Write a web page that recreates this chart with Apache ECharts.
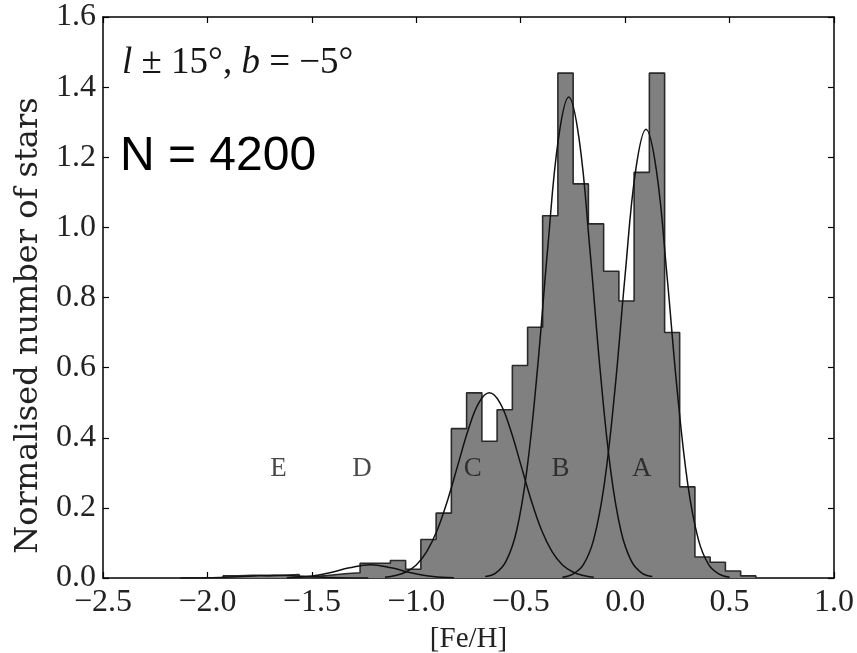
<!DOCTYPE html>
<html><head><meta charset="utf-8">
<script src="https://cdn.jsdelivr.net/npm/echarts@6/dist/echarts.min.js"></script>
<style>html,body{margin:0;padding:0;background:#fff}#c{width:857px;height:653px}</style>
</head><body><div id="c"></div>
<script>
// Histogram bin edges ([Fe/H]) and normalised heights
const binEdges = [-1.925,-1.853,-1.780,-1.707,-1.634,-1.561,-1.488,-1.415,-1.342,-1.269,
  -1.196,-1.124,-1.051,-0.978,-0.905,-0.832,-0.759,-0.686,-0.613,-0.540,
  -0.467,-0.395,-0.322,-0.249,-0.176,-0.103,-0.030,0.043,0.116,0.189,
  0.261,0.334,0.407,0.480,0.553,0.626];
const binHeights = [0.006,0.008,0.006,0.008,0.010,0.004,0.008,0.012,0.015,0.042,
  0.042,0.050,0.025,0.110,0.185,0.426,0.528,0.390,0.480,0.606,
  0.715,1.033,1.440,1.124,1.010,0.875,0.790,1.157,1.440,0.700,
  0.260,0.060,0.045,0.020,0.006];

const aFe = [-0.30,-0.25,-0.20,-0.15,-0.10,-0.05,0.00,0.05,0.10,0.15,0.20,0.25,0.30,0.35,0.40,0.45,0.50];
const aN  = [0.002,0.011,0.038,0.111,0.267,0.530,0.865,1.161,1.280,1.161,0.865,0.530,0.267,0.111,0.038,0.011,0.002];
const bFe = [-0.67,-0.62,-0.57,-0.52,-0.47,-0.42,-0.37,-0.32,-0.27,-0.22,-0.17,-0.12,-0.07,-0.02,0.03,0.08,0.13];
const bN  = [0.004,0.014,0.048,0.134,0.310,0.595,0.946,1.250,1.372,1.250,0.946,0.595,0.310,0.134,0.048,0.014,0.004];
const cFe = [-1.15,-1.10,-1.05,-1.00,-0.95,-0.90,-0.85,-0.80,-0.75,-0.70,-0.65,-0.60,-0.55,-0.50,-0.45,-0.40,-0.35,-0.30,-0.25,-0.20,-0.15];
const cN  = [0.002,0.007,0.017,0.037,0.075,0.136,0.222,0.324,0.425,0.500,0.528,0.500,0.425,0.324,0.222,0.136,0.075,0.037,0.017,0.007,0.002];
const dFe = [-1.62,-1.52,-1.42,-1.32,-1.22,-1.12,-1.02,-0.92,-0.82];
const dN  = [0.001,0.004,0.014,0.029,0.038,0.029,0.014,0.004,0.001];
const eFe = [-2.13,-1.98,-1.88,-1.78,-1.68,-1.58,-1.48,-1.38,-1.23];
const eN  = [0.000,0.001,0.003,0.006,0.008,0.006,0.003,0.001,0.000];

// Component letters
const compNames = ['E','D','C','B','A'];
const compX = [-1.66,-1.26,-0.73,-0.31,0.08];
const compY = [0.31,0.31,0.31,0.31,0.31];

const titleText = '{i|l} ± 15°, {i|b} = −5°';
const countText = 'N = 4200';
const xName = '[Fe/H]';
const yName = 'Normalised number of stars';

const stepData = [[binEdges[0], 0]];
binHeights.forEach((h, i) => stepData.push([binEdges[i], h]));
stepData.push([binEdges[binEdges.length - 1], 0]);

const zip = (xs, ys) => xs.map((x, i) => [x, ys[i]]);
const fmt = v => (v < 0 ? '\u2212' : '') + Math.abs(v).toFixed(1);

const serif = 'Liberation Serif';
const axisCommon = () => ({
  axisLine: { show: true, onZero: false, lineStyle: { color: '#000', width: 1.5 } },
  axisTick: { show: true, inside: true, length: 6, lineStyle: { color: '#000', width: 1.2 } },
  splitLine: { show: false }
});

const chart = echarts.init(document.getElementById('c'));
chart.setOption({
  animation: false,
  backgroundColor: '#fff',
  grid: { left: 103, right: 23, top: 17, bottom: 75, outerBoundsMode: 'none', containLabel: false },
  title: {
    text: titleText, left: 117, top: 40,
    textStyle: { fontFamily: serif, fontSize: 37, fontWeight: 'normal', color: '#151515',
      rich: { i: { fontFamily: serif, fontStyle: 'italic', fontSize: 37, color: '#151515' } } }
  },
  graphic: [{
    type: 'text', left: 120, top: 133,
    style: { text: countText, fontFamily: 'Liberation Sans', fontSize: 48, fill: '#000' }
  }],
  xAxis: [
    Object.assign(axisCommon(), {
      type: 'value', min: -2.5, max: 1.0, interval: 0.5, position: 'bottom',
      axisLabel: { fontFamily: serif, fontSize: 32, color: '#222', margin: 9, formatter: fmt },
      name: xName, nameLocation: 'middle', nameGap: 47,
      nameTextStyle: { fontFamily: serif, fontSize: 29, color: '#222' }
    }),
    Object.assign(axisCommon(), {
      type: 'value', min: -2.5, max: 1.0, interval: 0.5, position: 'top',
      axisLabel: { show: false }
    })
  ],
  yAxis: [
    Object.assign(axisCommon(), {
      type: 'value', min: 0, max: 1.6, interval: 0.2, position: 'left',
      axisLabel: { fontFamily: serif, fontSize: 32, color: '#222', margin: 7, formatter: fmt },
      name: yName, nameLocation: 'middle', nameGap: 58,
      nameTextStyle: { fontFamily: 'DejaVu Serif', fontSize: 32, color: '#222', padding: [0, 56, 0, 0] }
    }),
    Object.assign(axisCommon(), {
      type: 'value', min: 0, max: 1.6, interval: 0.2, position: 'right',
      axisLabel: { show: false }
    })
  ],
  series: [
    {
      type: 'line', step: 'end', data: stepData, symbol: 'none',
      lineStyle: { color: '#2a2a2a', width: 1.6 },
      areaStyle: { color: '#808080', opacity: 1 }, z: 2
    },
    ...[[aFe, aN], [bFe, bN], [cFe, cN], [dFe, dN], [eFe, eN]].map(([xs, ys]) => ({
      type: 'line', data: zip(xs, ys), smooth: 0.4, symbol: 'none',
      lineStyle: { color: '#111', width: 1.5 }, z: 3
    })),
    {
      type: 'scatter', symbolSize: 1, itemStyle: { color: 'rgba(0,0,0,0)' }, z: 4,
      data: compNames.map((n, i) => ({ name: n, value: [compX[i], compY[i]] })),
      label: { show: true, position: 'inside', formatter: p => p.name,
        fontFamily: serif, fontSize: 27, color: '#1a1a1a' }
    }
  ]
});
</script></body></html>
